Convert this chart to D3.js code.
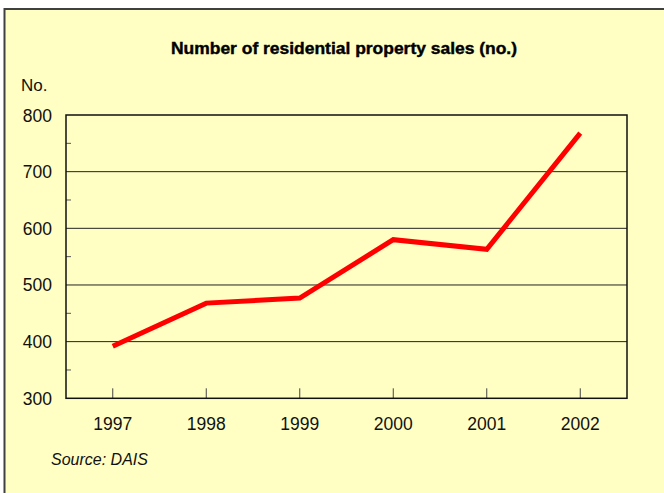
<!DOCTYPE html>
<html><head><meta charset="utf-8">
<script src="https://cdn.jsdelivr.net/npm/d3@7"></script>
<style>body{margin:0;background:#fff}svg{display:block}</style>
</head><body>
<script>
const years = ["1997","1998","1999","2000","2001","2002"];
const sales = [392, 468, 477, 580, 563, 768];
const yTicks = [300, 400, 500, 600, 700, 800];
const yMinorTicks = [350, 450, 550, 650, 750];
const title = "Number of residential property sales (no.)";
const unitLabel = "No.";
const source = "Source: DAIS";

const W = 664, H = 493;
const m = {left: 66, right: 627, top: 115, bottom: 398.3};
const svg = d3.select("body").append("svg").attr("width", W).attr("height", H);

svg.append("rect").attr("x", 4.5).attr("y", 9).attr("width", W + 10).attr("height", H + 10)
  .attr("fill", "#ffffc4").attr("stroke", "#404040").attr("stroke-width", 2);

const x = d3.scaleBand().domain(years).range([m.left, m.right]);
const y = d3.scaleLinear().domain([300, 800]).range([m.bottom, m.top]);

// gridlines
svg.append("g").selectAll("line").data(yTicks.slice(1, -1)).join("line")
  .attr("x1", m.left).attr("x2", m.right).attr("y1", d => y(d)).attr("y2", d => y(d))
  .attr("stroke", "#222").attr("stroke-width", 1);

// minor ticks on left axis
svg.append("g").selectAll("line").data(yMinorTicks).join("line")
  .attr("x1", m.left).attr("x2", m.left + 5).attr("y1", d => y(d)).attr("y2", d => y(d))
  .attr("stroke", "#555").attr("stroke-width", 1);

// x ticks (inward)
svg.append("g").selectAll("line").data(years).join("line")
  .attr("x1", d => x(d) + x.bandwidth() / 2).attr("x2", d => x(d) + x.bandwidth() / 2)
  .attr("y1", m.bottom).attr("y2", m.bottom - 10)
  .attr("stroke", "#444").attr("stroke-width", 1);

// frame
svg.append("rect").attr("x", m.left).attr("y", m.top)
  .attr("width", m.right - m.left).attr("height", m.bottom - m.top)
  .attr("fill", "none").attr("stroke", "#111").attr("stroke-width", 1.5);

// y labels
svg.append("g").selectAll("text").data(yTicks).join("text")
  .attr("x", 52).attr("y", d => y(d) + 6.5).attr("text-anchor", "end")
  .attr("font-family", "Liberation Sans, Arial, sans-serif").attr("font-size", 17.5)
  .attr("fill", "#111").text(d => d);

// x labels
svg.append("g").selectAll("text").data(years).join("text")
  .attr("x", d => x(d) + x.bandwidth() / 2).attr("y", 430).attr("text-anchor", "middle")
  .attr("font-family", "Liberation Sans, Arial, sans-serif").attr("font-size", 17.5)
  .attr("fill", "#111").text(d => d);

// line
const line = d3.line().x((d, i) => x(years[i]) + x.bandwidth() / 2).y(d => y(d));
svg.append("path").datum(sales).attr("d", line)
  .attr("fill", "none").attr("stroke", "#ff0000").attr("stroke-width", 5)
  .attr("stroke-linejoin", "miter");

// title
svg.append("text").attr("x", 344).attr("y", 54).attr("text-anchor", "middle")
  .attr("font-family", "Liberation Sans, Arial, sans-serif").attr("font-weight", "bold")
  .attr("font-size", 16).attr("textLength", 346).attr("lengthAdjust", "spacingAndGlyphs")
  .attr("fill", "#000").attr("stroke", "#000").attr("stroke-width", 0.4).text(title);

svg.append("text").attr("x", 21).attr("y", 91)
  .attr("font-family", "Liberation Sans, Arial, sans-serif").attr("font-size", 17)
  .attr("fill", "#111").text(unitLabel);

svg.append("text").attr("x", 51).attr("y", 465)
  .attr("font-family", "Liberation Sans, Arial, sans-serif").attr("font-style", "italic")
  .attr("font-size", 16).attr("fill", "#111").text(source);
</script>
</body></html>
